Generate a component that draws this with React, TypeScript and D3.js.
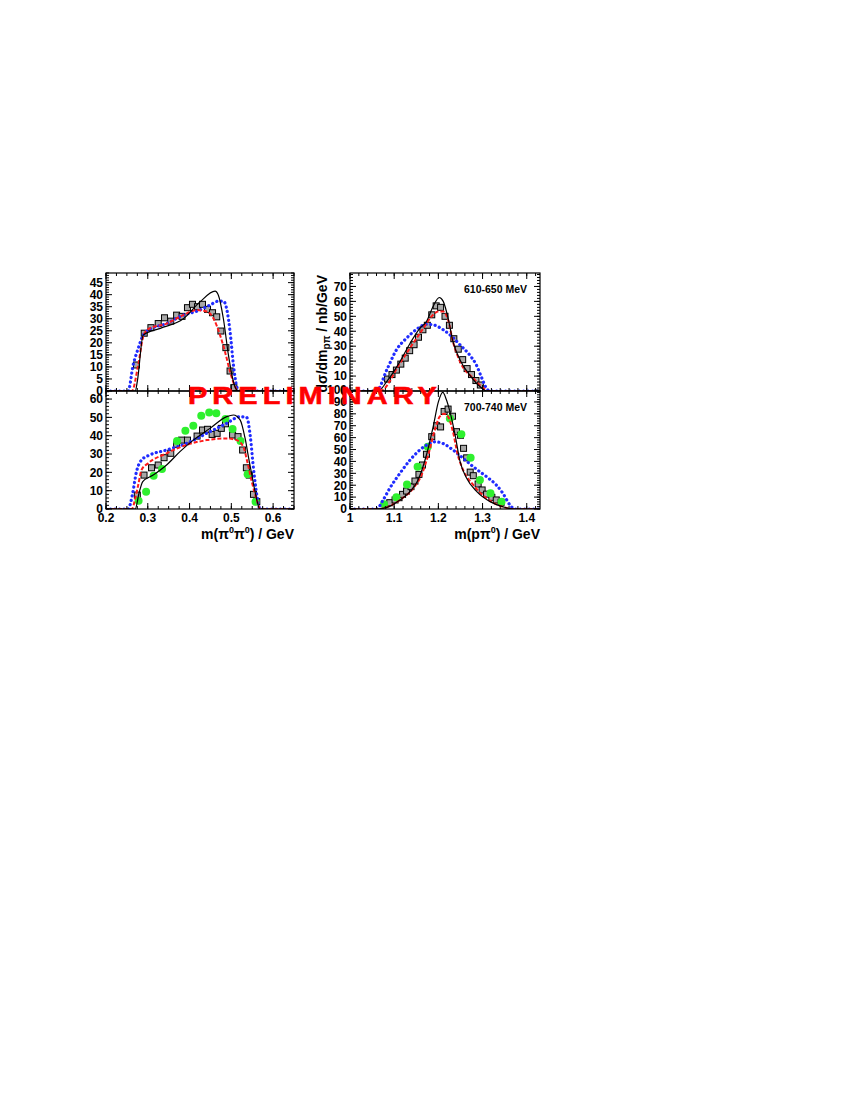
import React from "react";
import * as d3 from "d3";

type Pt = [number, number];

// ---------- axis ticks ----------
const ppXTicks = [0.2, 0.3, 0.4, 0.5, 0.6];
const pXTicks = [1, 1.1, 1.2, 1.3, 1.4];
const topLeftYTicks = [0, 5, 10, 15, 20, 25, 30, 35, 40, 45];
const botLeftYTicks = [0, 10, 20, 30, 40, 50, 60];
const topRightYTicks = [0, 10, 20, 30, 40, 50, 60, 70];
const botRightYTicks = [0, 10, 20, 30, 40, 50, 60, 70, 80, 90, 100];

// ---------- m(pi0 pi0), 610-650 MeV ----------
const ppA_data: Pt[] = [
  [0.273, 10.8], [0.2915, 24], [0.3075, 26.3], [0.325, 28], [0.34, 30.4], [0.355, 29],
  [0.369, 31.5], [0.382, 31], [0.395, 34.6], [0.407, 36], [0.419, 35], [0.431, 36],
  [0.443, 33.9], [0.455, 32.5], [0.465, 30.8], [0.475, 24.9], [0.487, 18], [0.497, 8.3], [0.506, 1.4],
];
const ppA_black: Pt[] = [
  [0.2, 0], [0.27, 0], [0.275, 4], [0.289, 23.2], [0.33, 26], [0.385, 30], [0.425, 37],
  [0.461, 41.5], [0.469, 39.8], [0.481, 30], [0.493, 15], [0.503, 5.3], [0.513, 0.4], [0.52, 0], [0.65, 0],
];
const ppA_red: Pt[] = [
  [0.2, 0], [0.262, 0], [0.277, 10.8], [0.289, 22.5], [0.3, 25.6], [0.345, 28], [0.385, 31.5],
  [0.417, 33.6], [0.441, 33], [0.457, 30.2], [0.473, 23.2], [0.485, 16.2], [0.497, 8], [0.509, 1.8],
  [0.517, 0], [0.65, 0],
];
const ppA_blue: Pt[] = [
  [0.2, 0], [0.253, 0], [0.265, 10.8], [0.277, 17.6], [0.287, 22.5], [0.301, 25.3], [0.345, 28],
  [0.385, 31.5], [0.417, 33.1], [0.449, 35.7], [0.469, 37.3], [0.481, 37.3], [0.489, 34], [0.497, 24.6],
  [0.505, 10.8], [0.513, 1.8], [0.519, 0], [0.65, 0],
];

// ---------- m(p pi0), 610-650 MeV ----------
const pA_data: Pt[] = [
  [1.085, 8], [1.095, 11], [1.105, 14], [1.115, 18], [1.125, 22], [1.135, 27], [1.145, 31],
  [1.155, 36], [1.165, 41], [1.175, 44], [1.185, 51], [1.195, 57], [1.205, 56], [1.215, 50],
  [1.225, 44], [1.235, 35], [1.245, 28], [1.255, 21], [1.265, 15], [1.275, 11], [1.285, 7], [1.295, 4],
];
const pA_black: Pt[] = [
  [1, 0], [1.064, 0], [1.083, 6.3], [1.113, 19.7], [1.136, 32], [1.158, 42], [1.173, 46.5],
  [1.188, 56.6], [1.202, 62.6], [1.211, 60], [1.222, 48.8], [1.233, 33], [1.249, 20.8],
  [1.271, 10.7], [1.294, 3], [1.309, 0], [1.43, 0],
];
const pA_red: Pt[] = [
  [1, 0], [1.068, 0], [1.113, 18.6], [1.143, 32], [1.166, 42], [1.185, 50], [1.2, 53.2],
  [1.211, 53.2], [1.222, 47.6], [1.233, 33], [1.249, 19.7], [1.279, 8.5], [1.305, 1.3], [1.312, 0], [1.43, 0],
];
const pA_blue: Pt[] = [
  [1, 0], [1.06, 0], [1.083, 14], [1.105, 27.5], [1.128, 35.4], [1.154, 42], [1.173, 44.7],
  [1.188, 44.3], [1.211, 41], [1.233, 35.8], [1.249, 30.9], [1.271, 24], [1.286, 17.4],
  [1.297, 9.6], [1.309, 1.8], [1.316, 0], [1.43, 0],
];

// ---------- m(pi0 pi0), 700-740 MeV ----------
const ppB_data: Pt[] = [
  [0.275, 7.6], [0.291, 18.5], [0.309, 22.5], [0.325, 24], [0.339, 28], [0.355, 30.4],
  [0.369, 35.3], [0.381, 37.6], [0.395, 37.6], [0.418, 39.8], [0.431, 43.1], [0.443, 43.5],
  [0.454, 40.7], [0.466, 41.3], [0.476, 44], [0.486, 46.5], [0.503, 40.4], [0.516, 39.5],
  [0.527, 32.2], [0.536, 22.5], [0.543, 18.5], [0.553, 8], [0.561, 4],
];
const ppB_green: Pt[] = [
  [0.278, 4.5], [0.296, 9.4], [0.314, 18.2], [0.334, 21.8], [0.37, 37.1], [0.39, 42.7],
  [0.409, 45.5], [0.428, 50.9], [0.447, 52.7], [0.464, 52.2], [0.486, 49.1], [0.503, 43.6],
  [0.522, 37.1], [0.539, 18.9], [0.558, 4],
];
const ppB_black: Pt[] = [
  [0.2, 0], [0.27, 0], [0.279, 8.6], [0.288, 14.9], [0.313, 18.5], [0.345, 24], [0.377, 31.3],
  [0.409, 37.6], [0.449, 44], [0.489, 50.4], [0.505, 51.3], [0.521, 48.6], [0.533, 38.5],
  [0.543, 25.8], [0.553, 13.8], [0.562, 4], [0.568, 0], [0.65, 0],
];
const ppB_red: Pt[] = [
  [0.2, 0], [0.262, 0], [0.27, 5.8], [0.277, 13], [0.285, 21.3], [0.301, 25], [0.345, 30.4],
  [0.393, 35], [0.441, 37.6], [0.489, 38.5], [0.513, 37.6], [0.529, 33.8], [0.539, 25],
  [0.549, 14.9], [0.561, 4.9], [0.569, 0], [0.65, 0],
];
const ppB_blue: Pt[] = [
  [0.2, 0], [0.253, 0], [0.263, 7.6], [0.273, 20.4], [0.285, 26.7], [0.305, 29.5], [0.345, 32.2],
  [0.393, 35.8], [0.441, 41.3], [0.489, 46.8], [0.521, 50.4], [0.537, 49.9], [0.545, 40.4],
  [0.553, 22.2], [0.561, 7.6], [0.569, 0], [0.65, 0],
];

// ---------- m(p pi0), 700-740 MeV ----------
const pB_data: Pt[] = [
  [1.09, 5.3], [1.102, 7.6], [1.111, 9.5], [1.119, 12.3], [1.128, 15.1], [1.138, 18.8],
  [1.147, 23.5], [1.156, 29.1], [1.164, 37], [1.173, 46], [1.185, 60.8], [1.196, 70],
  [1.205, 69], [1.213, 82], [1.222, 84], [1.232, 78], [1.241, 65], [1.25, 62], [1.257, 51],
  [1.264, 43], [1.272, 31], [1.279, 28], [1.29, 21], [1.299, 16], [1.309, 12.5], [1.321, 9.8],
  [1.331, 7.6], [1.342, 5.6],
];
const pB_green: Pt[] = [
  [1.077, 4], [1.105, 9.8], [1.129, 20.7], [1.153, 35.5], [1.176, 52.4], [1.226, 76],
  [1.252, 62.8], [1.273, 43.1], [1.294, 24.4], [1.318, 13.2], [1.343, 6.2],
];
const pB_black: Pt[] = [
  [1, 0], [1.06, 0], [1.09, 2.2], [1.113, 7.6], [1.136, 14.6], [1.154, 24.4], [1.173, 45.4],
  [1.189, 70.6], [1.2, 90], [1.21, 98], [1.218, 92], [1.226, 82], [1.238, 62], [1.249, 40],
  [1.264, 25.8], [1.287, 14.6], [1.317, 6.2], [1.347, 1.8], [1.37, 0], [1.43, 0],
];
const pB_red: Pt[] = [
  [1, 0], [1.064, 0], [1.113, 7.6], [1.143, 17.4], [1.162, 28.6], [1.177, 45.4], [1.193, 67.8],
  [1.203, 77.6], [1.213, 80], [1.222, 77.6], [1.233, 65], [1.244, 45.4], [1.256, 32.8],
  [1.279, 20.2], [1.309, 9], [1.346, 1.8], [1.369, 0], [1.43, 0],
];
const pB_blue: Pt[] = [
  [1, 0], [1.06, 0], [1.075, 7.6], [1.09, 17.4], [1.113, 30], [1.136, 41.2], [1.158, 49.6],
  [1.181, 55.2], [1.192, 56.5], [1.211, 55], [1.233, 49.6], [1.256, 42.6], [1.279, 35.5],
  [1.309, 27.1], [1.331, 20.2], [1.346, 13.2], [1.362, 3.4], [1.373, 0], [1.43, 0],
];

const FONT = "'Liberation Sans', Arial, Helvetica, sans-serif";
const BLUE = "#1f2bff";
const RED = "#ff1a1a";
const GREEN = "#2ef02e";

interface PanelProps {
  id: string;
  x0: number; x1: number; y0: number; y1: number;
  xDomain: [number, number];
  yDomain: [number, number];
  xTicks: number[]; xMinor: number;
  yTicks: number[]; yMinor: number;
  showXLabels: boolean;
  squares: Pt[]; greens?: Pt[];
  black: Pt[]; red: Pt[]; blue: Pt[];
  label?: string;
}

function Panel(p: PanelProps) {
  const xs = d3.scaleLinear().domain(p.xDomain).range([p.x0, p.x1]);
  const ys = d3.scaleLinear().domain(p.yDomain).range([p.y1, p.y0]);
  const line = d3.line<Pt>().x(d => xs(d[0])).y(d => ys(d[1])).curve(d3.curveMonotoneX);
  const xMinorTicks = d3.range(p.xDomain[0], p.xDomain[1] + 1e-9, p.xMinor);
  const yMinorTicks = d3.range(p.yDomain[0], p.yDomain[1] + 1e-9, p.yMinor);
  const maj = 6, mnr = 3;
  const sq = 6;
  return (
    <g>
      <defs>
        <clipPath id={`clip-${p.id}`}>
          <rect x={p.x0} y={p.y0} width={p.x1 - p.x0} height={p.y1 - p.y0} />
        </clipPath>
      </defs>
      <g clipPath={`url(#clip-${p.id})`}>
        {p.squares.map((d, i) => (
          <rect key={`s${i}`} x={xs(d[0]) - sq / 2} y={ys(d[1]) - sq / 2} width={sq} height={sq}
            fill="#a8a8a8" stroke="#000" strokeWidth={1} />
        ))}
        {(p.greens || []).map((d, i) => (
          <circle key={`g${i}`} cx={xs(d[0])} cy={ys(d[1])} r={4} fill={GREEN} />
        ))}
        <path d={line(p.blue) || ""} fill="none" stroke={BLUE} strokeWidth={3.2}
          strokeDasharray="0.1 4.4" strokeLinecap="round" />
        <path d={line(p.red) || ""} fill="none" stroke={RED} strokeWidth={2}
          strokeDasharray="4 2" />
        <path d={line(p.black) || ""} fill="none" stroke="#000" strokeWidth={1.2} />
      </g>
      {/* ticks */}
      <g stroke="#000" strokeWidth={1}>
        {xMinorTicks.map((t, i) => (
          <g key={`xm${i}`}>
            <line x1={xs(t)} x2={xs(t)} y1={p.y1} y2={p.y1 - mnr} />
            <line x1={xs(t)} x2={xs(t)} y1={p.y0} y2={p.y0 + mnr} />
          </g>
        ))}
        {p.xTicks.map((t, i) => (
          <g key={`xM${i}`}>
            <line x1={xs(t)} x2={xs(t)} y1={p.y1} y2={p.y1 - maj} />
            <line x1={xs(t)} x2={xs(t)} y1={p.y0} y2={p.y0 + maj} />
          </g>
        ))}
        {yMinorTicks.map((t, i) => (
          <g key={`ym${i}`}>
            <line x1={p.x0} x2={p.x0 + mnr} y1={ys(t)} y2={ys(t)} />
            <line x1={p.x1} x2={p.x1 - mnr} y1={ys(t)} y2={ys(t)} />
          </g>
        ))}
        {p.yTicks.map((t, i) => (
          <g key={`yM${i}`}>
            <line x1={p.x0} x2={p.x0 + maj} y1={ys(t)} y2={ys(t)} />
            <line x1={p.x1} x2={p.x1 - maj} y1={ys(t)} y2={ys(t)} />
          </g>
        ))}
      </g>
      <rect x={p.x0} y={p.y0} width={p.x1 - p.x0} height={p.y1 - p.y0} fill="none" stroke="#000" strokeWidth={1.2} />
      {/* tick labels */}
      <g fontFamily={FONT} fontWeight="bold" fontSize={12} fill="#000">
        {p.yTicks.map((t, i) => (
          <text key={`yl${i}`} x={p.x0 - 3} y={ys(t) + 4.3} textAnchor="end">{t}</text>
        ))}
        {p.showXLabels && p.xTicks.map((t, i) => (
          <text key={`xl${i}`} x={xs(t)} y={p.y1 + 13} textAnchor="middle">{t}</text>
        ))}
      </g>
      {p.label && (
        <text x={p.x1 - 13} y={p.y0 + 20} textAnchor="end" fontFamily={FONT} fontWeight="bold" fontSize={10.5}>
          {p.label}
        </text>
      )}
    </g>
  );
}

export default function App() {
  const L = { x0: 106, x1: 294 };
  const R = { x0: 350, x1: 540 };
  const T = { y0: 273, y1: 391 };
  const B = { y0: 391, y1: 509 };
  return (
    <svg width={850} height={1100} style={{ position: "absolute", left: 0, top: 0, background: "#fff" }}>
      <rect x={0} y={0} width={850} height={1100} fill="#fff" />
      <Panel id="tl" {...L} {...T} xDomain={[0.2, 0.65]} yDomain={[0, 49]} xTicks={ppXTicks} xMinor={0.025}
        yTicks={topLeftYTicks} yMinor={1} showXLabels={false}
        squares={ppA_data} black={ppA_black} red={ppA_red} blue={ppA_blue} />
      <Panel id="bl" {...L} {...B} xDomain={[0.2, 0.65]} yDomain={[0, 64.4]} xTicks={ppXTicks} xMinor={0.025}
        yTicks={botLeftYTicks} yMinor={2} showXLabels={true}
        squares={ppB_data} greens={ppB_green} black={ppB_black} red={ppB_red} blue={ppB_blue} />
      <Panel id="tr" {...R} {...T} xDomain={[1, 1.43]} yDomain={[0, 79]} xTicks={pXTicks} xMinor={0.02}
        yTicks={topRightYTicks} yMinor={2} showXLabels={false}
        squares={pA_data} black={pA_black} red={pA_red} blue={pA_blue} label="610-650 MeV" />
      <Panel id="br" {...R} {...B} xDomain={[1, 1.43]} yDomain={[0, 99.2]} xTicks={pXTicks} xMinor={0.02}
        yTicks={botRightYTicks} yMinor={2} showXLabels={true}
        squares={pB_data} greens={pB_green} black={pB_black} red={pB_red} blue={pB_blue} label="700-740 MeV" />

      {/* axis titles */}
      <g fontFamily={FONT} fontWeight="bold" fontSize={14} fill="#000">
        <text transform="translate(327,275) rotate(-90)" textAnchor="end">
          dσ/dm<tspan fontSize={10} dy={3}>pπ</tspan><tspan dy={-3}> / nb/GeV</tspan>
        </text>
        <text x={294} y={539} textAnchor="end">
          m(π<tspan fontSize={9} dy={-6}>0</tspan><tspan dy={6}>π</tspan><tspan fontSize={9} dy={-6}>0</tspan><tspan dy={6}>) / GeV</tspan>
        </text>
        <text x={540} y={539} textAnchor="end">
          m(pπ<tspan fontSize={9} dy={-6}>0</tspan><tspan dy={6}>) / GeV</tspan>
        </text>
      </g>

      <text x={188} y={404} fontFamily={FONT} fontWeight="bold" fontSize={23} fill="#ff0000"
        stroke="#ff0000" strokeWidth={0.5}
        letterSpacing={4} textLength={254} lengthAdjust="spacingAndGlyphs">PRELIMINARY</text>
    </svg>
  );
}
